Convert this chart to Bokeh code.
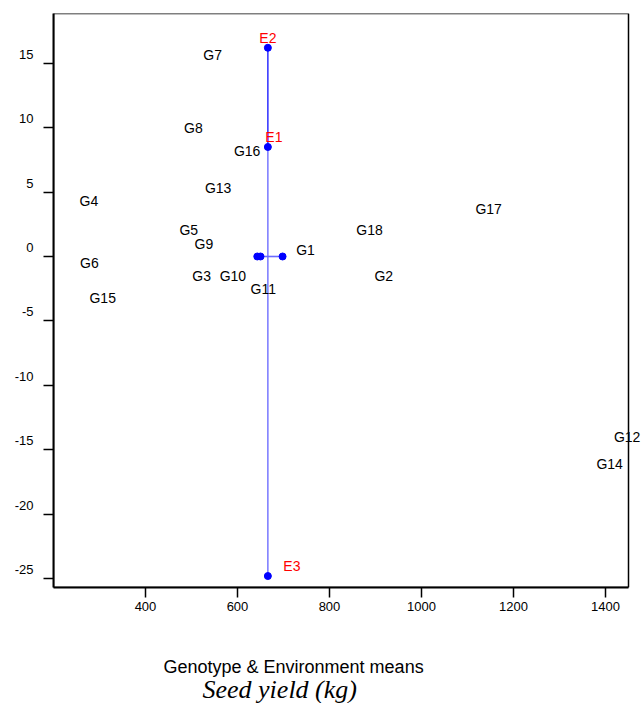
from bokeh.plotting import figure
from bokeh.models import (ColumnDataSource, LabelSet, Label, Range1d, FixedTicker,
                          Title, BoxAnnotation, CustomJSTickFormatter)
from bokeh.core.properties import value
from bokeh.embed import file_html
from bokeh.resources import INLINE

# Genotype scores (x = mean seed yield, y = PC score)
genotypes = ["G1", "G2", "G3", "G4", "G5", "G6", "G7", "G8", "G9", "G10",
             "G11", "G12", "G13", "G14", "G15", "G16", "G17", "G18"]
geno_x = [748, 918, 522, 277, 494, 278, 546, 504, 527, 590,
          656, 1447, 558, 1409, 307, 621, 1146, 887]
geno_y = [0.49, -1.48, -1.48, 4.27, 2.07, -0.47, 15.66, 10.0, 1.0, -1.48,
          -2.54, -13.98, 5.3, -16.1, -3.24, 8.15, 3.65, 2.02]

# Environment scores
environments = ["E1", "E2", "E3"]
env_x = [666, 666, 666]
env_y = [8.5, 16.2, -24.8]

# Centre markers on the horizontal line
centre_x = [643, 650, 698]
centre_y = [0, 0, 0]

x_ticks = [400, 600, 800, 1000, 1200, 1400]
y_ticks = [-25, -20, -15, -10, -5, 0, 5, 10, 15]
x_lim = (200, 1450)
y_lim = (-25.69, 18.86)

p = figure(width=641, height=703, output_backend="svg", toolbar_location=None,
           x_range=Range1d(x_lim[0], x_lim[1] + 13 / 0.46),
           y_range=Range1d(*y_lim),
           min_border_left=53, min_border_right=0, min_border_top=13,
           min_border_bottom=116)

p.grid.visible = False
p.outline_line_color = None
p.background_fill_color = "white"
p.border_fill_color = "white"

# plot box
p.add_layout(BoxAnnotation(left=x_lim[0], right=x_lim[1], bottom=y_lim[0], top=y_lim[1],
                           fill_alpha=0, line_color="black", line_alpha=1.0,
                           line_width=1.5, level="underlay"))

for ax in (p.xaxis[0], p.yaxis[0]):
    ax.axis_line_width = 2
    ax.axis_line_color = "black"
    ax.major_tick_in = 0
    ax.major_tick_out = 10
    ax.major_tick_line_width = 1.5
    ax.minor_tick_line_color = None
    ax.major_label_text_font = "Liberation Sans"
    ax.major_label_text_font_size = "13px"
    ax.major_label_text_color = "black"

p.xaxis[0].bounds = x_lim
p.xaxis[0].ticker = FixedTicker(ticks=x_ticks)
p.yaxis[0].ticker = FixedTicker(ticks=y_ticks)
# labels sit slightly above their ticks, as in the original
p.yaxis[0].formatter = CustomJSTickFormatter(code="return String(tick) + '\\n ';")
p.yaxis[0].major_label_standoff = 10
p.xaxis[0].major_label_standoff = 4

# Environment vector lines
p.segment(x0=[env_x[1]], y0=[env_y[1]], x1=[env_x[0]], y1=[env_y[0]],
          line_color="#3a3aff", line_width=1.6)
p.segment(x0=[env_x[0]], y0=[env_y[0]], x1=[env_x[2]], y1=[env_y[2]],
          line_color="#8080ff", line_width=1.6)
p.segment(x0=[centre_x[0]], y0=[centre_y[0]], x1=[centre_x[2]], y1=[centre_y[2]],
          line_color="#6a6aff", line_width=1.6)

p.scatter(env_x, env_y, size=7, color="#0000ff")
p.scatter(centre_x, centre_y, size=7, color="#0000ff")

gsrc = ColumnDataSource(dict(x=geno_x, y=geno_y, t=genotypes))
p.add_layout(LabelSet(x="x", y="y", text="t", source=gsrc,
                      text_font=value("Liberation Sans"), text_font_size=value("14px"),
                      text_color="black", text_align="center",
                      text_baseline="middle"))

env_offsets = {"E1": (6, 10), "E2": (0, 10), "E3": (24, 10)}
for name, ex, ey in zip(environments, env_x, env_y):
    dx, dy = env_offsets[name]
    p.add_layout(Label(x=ex, y=ey, text=name, x_offset=dx, y_offset=dy,
                       text_font="Liberation Sans", text_font_size="14px",
                       text_color="red", text_align="center",
                       text_baseline="middle"))

spacer = Title(text=" ", text_font_size="1px", standoff=38)
t1 = Title(text="Genotype & Environment means", align="left", offset=110,
           text_font="Liberation Sans", text_font_size="18px",
           text_font_style="normal", text_color="black", standoff=0)
t2 = Title(text="Seed yield (kg)", align="left", offset=149,
           text_font="Liberation Serif", text_font_size="26px",
           text_font_style="italic", text_color="black", standoff=-4,
           vertical_align="top")
p.add_layout(spacer, "below")
p.add_layout(t1, "below")
p.add_layout(t2, "below")

open("out.html", "w").write(file_html(p, INLINE))
